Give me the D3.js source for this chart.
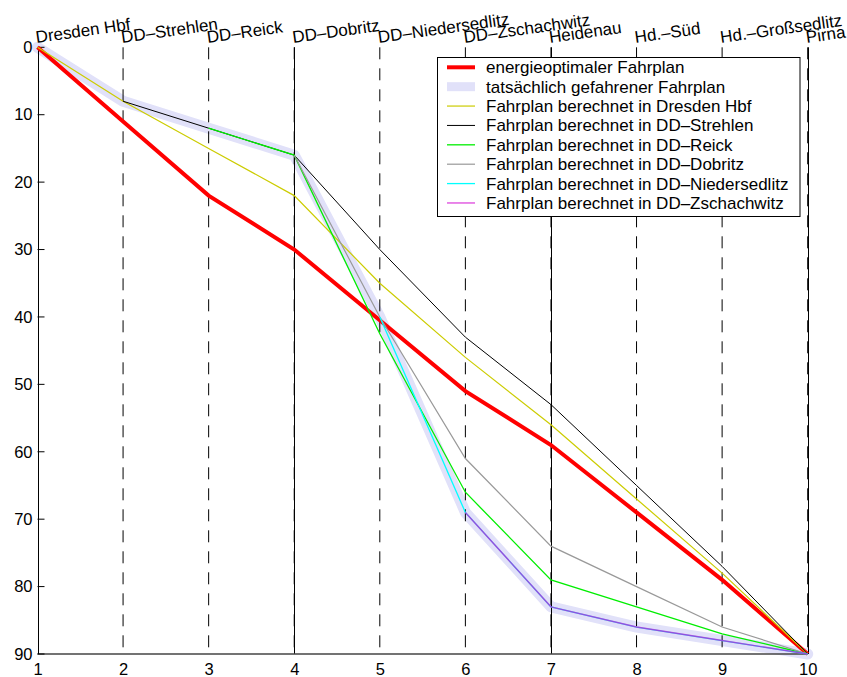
<!DOCTYPE html>
<html><head><meta charset="utf-8">
<script src="https://cdn.jsdelivr.net/npm/d3@7"></script>
<style>
html,body{margin:0;padding:0;background:#fff;}
svg{display:block;font-family:"Liberation Sans",Arial,Helvetica,sans-serif;}
</style></head>
<body>
<svg id="chart" width="847" height="677"></svg>
<script>
// ---- data ----
const stations = ["Dresden Hbf","DD\u2013Strehlen","DD\u2013Reick","DD\u2013Dobritz","DD\u2013Niedersedlitz","DD\u2013Zschachwitz","Heidenau","Hd.\u2013S\u00fcd","Hd.\u2013Gro\u00dfsedlitz","Pirna"];
const xTicks = [1,2,3,4,5,6,7,8,9,10];
const yTicks = [0,10,20,30,40,50,60,70,80,90];

const optimalStart = 1;
const optimalValues = [0,11,22,30,40.5,51,59,69,79,90];
const actualStart = 1;
const actualValues = [0,8,12,16,40,69,83,86,88,90];
const hbfStart = 1;
const hbfValues = [0,8,15,22,35,46,56,67,78,90];
const strehlenStart = 2;
const strehlenValues = [8,12,16,30,43,53,65,77,90];
const reickStart = 3;
const reickValues = [12,16,42.5,66,79,83,87,90];
const dobritzStart = 4;
const dobritzValues = [16,40,61,74,80,86,90];
const niedersedlitzStart = 5;
const niedersedlitzValues = [40,69,83,86,88,90];
const zschachwitzStart = 6;
const zschachwitzValues = [69,83,86,88,90];

const legendLabels = ["energieoptimaler Fahrplan","tats\u00e4chlich gefahrener Fahrplan","Fahrplan berechnet in Dresden Hbf","Fahrplan berechnet in DD\u2013Strehlen","Fahrplan berechnet in DD\u2013Reick","Fahrplan berechnet in DD\u2013Dobritz","Fahrplan berechnet in DD\u2013Niedersedlitz","Fahrplan berechnet in DD\u2013Zschachwitz"];

// ---- layout ----
const svg = d3.select("#chart");
const x = d3.scaleLinear().domain([1,10]).range([37.5,807.7]);
const y = d3.scaleLinear().domain([0,90]).range([47.3,654]);

const toPts = (start, vals) => vals.map((v,i)=>[start+i, v]);
const line = d3.line().x(d=>x(d[0])).y(d=>y(d[1]));

// actual band
svg.append("path").datum(toPts(actualStart, actualValues))
  .attr("d", line).attr("fill","none").attr("stroke","#e1e1f9")
  .attr("stroke-width",11).attr("stroke-linejoin","round").attr("stroke-linecap","round");

// vertical station lines
const g = svg.append("g");
g.selectAll("line.dash").data(xTicks.slice(1)).join("line")
  .attr("x1",d=>x(d)).attr("x2",d=>x(d)).attr("y1",y(0)).attr("y2",y(90))
  .attr("stroke","#000").attr("stroke-width",1).attr("stroke-dasharray","12,9");
g.selectAll("line.solid").data([4,7,10]).join("line")
  .attr("x1",d=>Math.round(x(d))+0.5).attr("x2",d=>Math.round(x(d))+0.5).attr("y1",y(0)).attr("y2",y(90))
  .attr("stroke","#000").attr("stroke-width",1);

// axes
svg.append("line").attr("x1",x(1)).attr("x2",x(10)).attr("y1",y(90)).attr("y2",y(90))
  .attr("stroke","#444").attr("stroke-width",1.6);
svg.append("line").attr("x1",Math.round(x(1))+0.5).attr("x2",Math.round(x(1))+0.5).attr("y1",y(0)).attr("y2",y(90))
  .attr("stroke","#000").attr("stroke-width",1);

const yAxis = d3.axisLeft(y).tickValues(yTicks).tickSize(0).tickPadding(5);
const ya = svg.append("g").attr("transform",`translate(${x(1)},0)`).call(yAxis);
ya.select(".domain").remove();
ya.selectAll("text").attr("font-size",16.5).attr("fill","#000").attr("font-family","Liberation Sans, Arial, sans-serif");
svg.selectAll("line.ytick").data(yTicks).join("line")
  .attr("x1",x(1)).attr("x2",x(1)+7).attr("y1",d=>y(d)).attr("y2",d=>y(d))
  .attr("stroke","#000").attr("stroke-width",1);

const xAxis = d3.axisBottom(x).tickValues(xTicks).tickSize(0).tickPadding(9).tickFormat(d3.format("d"));
const xa = svg.append("g").attr("transform",`translate(0,${y(90)})`).call(xAxis);
xa.select(".domain").remove();
xa.selectAll("text").attr("font-size",16.5).attr("fill","#000").attr("font-family","Liberation Sans, Arial, sans-serif");

// station labels (top, rotated)
svg.selectAll("text.station").data(stations).join("text")
  .attr("class","station")
  .attr("transform",(d,i)=>`translate(${x(xTicks[i])-1},43) rotate(-8)`)
  .attr("font-size",17).attr("fill","#000").text(d=>d);

// series lines
const series = [
  {start:optimalStart, vals:optimalValues, color:"#ff0000", w:4, op:1},
  {start:hbfStart, vals:hbfValues, color:"#cccc00", w:1.2, op:1},
  {start:strehlenStart, vals:strehlenValues, color:"#000000", w:1, op:1},
  {start:reickStart, vals:reickValues, color:"#00ee00", w:1.3, op:1},
  {start:dobritzStart, vals:dobritzValues, color:"#999999", w:1.2, op:1},
  {start:niedersedlitzStart, vals:niedersedlitzValues, color:"#00ffff", w:1.3, op:1},
  {start:zschachwitzStart, vals:zschachwitzValues, color:"#d000d0", w:1.4, op:0.68}
];
series.forEach(s=>{
  svg.append("path").datum(toPts(s.start,s.vals)).attr("d",line)
    .attr("fill","none").attr("stroke",s.color).attr("stroke-width",s.w)
    .attr("stroke-opacity",s.op).attr("stroke-linejoin","miter");
});

// legend
const lg = svg.append("g");
lg.append("rect").attr("x",437.5).attr("y",57.5).attr("width",362.5).attr("height",159)
  .attr("fill","#fff").attr("stroke","#000").attr("stroke-width",1);
const legendStyles = [
  {color:"#ff0000", w:4, op:1},
  {color:"#e1e1f9", w:9, op:1},
  {color:"#cccc00", w:1.2, op:1},
  {color:"#000000", w:1, op:1},
  {color:"#00ee00", w:1.3, op:1},
  {color:"#999999", w:1.2, op:1},
  {color:"#00ffff", w:1.3, op:1},
  {color:"#d000d0", w:1.4, op:0.68}
];
const ly = i => 67.3 + i*19.38;
lg.selectAll("line.ls").data(legendStyles).join("line")
  .attr("x1",447).attr("x2",475).attr("y1",(d,i)=>ly(i)).attr("y2",(d,i)=>ly(i))
  .attr("stroke",d=>d.color).attr("stroke-width",d=>d.w).attr("stroke-opacity",d=>d.op);
lg.selectAll("text.lt").data(legendLabels).join("text")
  .attr("x",486).attr("y",(d,i)=>ly(i)+6).attr("font-size",17).attr("fill","#000").text(d=>d);
</script>
</body></html>
